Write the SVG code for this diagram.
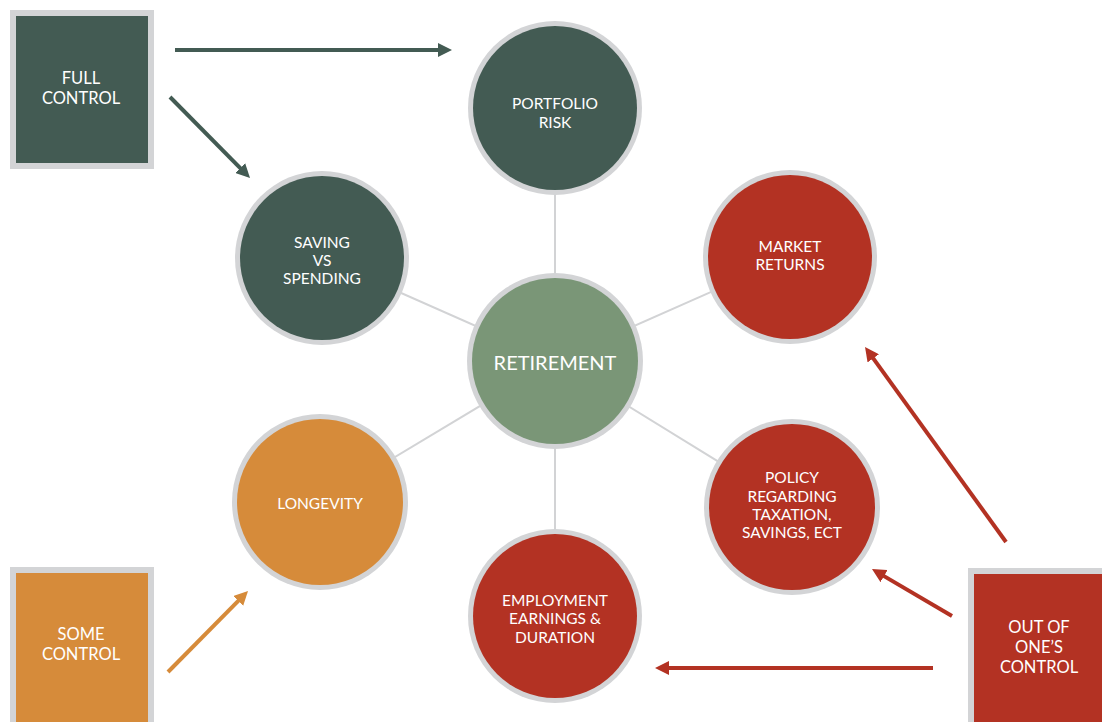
<svg xmlns="http://www.w3.org/2000/svg" width="1102" height="722" viewBox="0 0 1102 722">
<defs>
<style>
.bg{fill:#ffffff}
.ring{fill:#D3D4D6}
.dk{fill:#435B53}
.rd{fill:#B33223}
.or{fill:#D68B3A}
.gr{fill:#7A9677}
.spoke{stroke:#D2D3D5;stroke-width:2;fill:none}
.t{font-family:Lato,"Open Sans","Liberation Sans",sans-serif;fill:#ffffff;text-anchor:middle;dominant-baseline:central;font-size:15.5px}
.tb{font-size:16.5px}
.tc{font-size:20px}
.a{fill:none;stroke-width:4}
.adk{stroke:#435B53}
.ard{stroke:#B33223}
.aor{stroke:#D68B3A}
</style>
<marker id="mdk" markerUnits="userSpaceOnUse" markerWidth="14" markerHeight="14" viewBox="0 0 14 14" refX="4" refY="7" orient="auto"><path d="M0,0 L14,7 L0,14 z" fill="#435B53"/></marker>
<marker id="mrd" markerUnits="userSpaceOnUse" markerWidth="14" markerHeight="14" viewBox="0 0 14 14" refX="4" refY="7" orient="auto"><path d="M0,0 L14,7 L0,14 z" fill="#B33223"/></marker>
<marker id="mor" markerUnits="userSpaceOnUse" markerWidth="14" markerHeight="14" viewBox="0 0 14 14" refX="4" refY="7" orient="auto"><path d="M0,0 L14,7 L0,14 z" fill="#D68B3A"/></marker>
</defs>
<rect class="bg" x="0" y="0" width="1102" height="722"/>
<g id="spokes">
<line class="spoke" x1="555" y1="361" x2="555" y2="108"/>
<line class="spoke" x1="555" y1="361" x2="322" y2="258"/>
<line class="spoke" x1="555" y1="361" x2="790" y2="257"/>
<line class="spoke" x1="555" y1="361" x2="320" y2="502"/>
<line class="spoke" x1="555" y1="361" x2="792" y2="507"/>
<line class="spoke" x1="555" y1="361" x2="555" y2="616"/>
</g>
<g id="connectors">
<line class="a adk" x1="175" y1="50" x2="442" y2="50" marker-end="url(#mdk)"/>
<line class="a adk" x1="170" y1="97" x2="243" y2="170.9" marker-end="url(#mdk)"/>
<line class="a aor" x1="168" y1="672" x2="241" y2="598.1" marker-end="url(#mor)"/>
<line class="a ard" x1="1006" y1="542" x2="870.9" y2="355.1" marker-end="url(#mrd)"/>
<line class="a ard" x1="952" y1="616" x2="880.6" y2="574.1" marker-end="url(#mrd)"/>
<line class="a ard" x1="933" y1="668" x2="665" y2="668" marker-end="url(#mrd)"/>
</g>
<g id="full-control">
<rect class="ring" x="10" y="10" width="144" height="159"/>
<rect class="dk" x="16" y="16" width="132" height="147"/>
<text class="t tb" x="81" y="78">FULL</text>
<text class="t tb" x="81" y="98">CONTROL</text>
</g>
<g id="some-control">
<rect class="ring" x="10" y="567" width="144" height="160"/>
<rect class="or" x="16" y="573" width="132" height="155"/>
<text class="t tb" x="81" y="634">SOME</text>
<text class="t tb" x="81" y="654">CONTROL</text>
</g>
<g id="out-of-control">
<rect class="ring" x="968" y="568" width="144" height="160"/>
<rect class="rd" x="974" y="574" width="132" height="155"/>
<text class="t tb" x="1039" y="627">OUT OF</text>
<text class="t tb" x="1039" y="647">ONE’S</text>
<text class="t tb" x="1039" y="667">CONTROL</text>
</g>
<g id="portfolio-risk">
<circle class="ring" cx="555" cy="108" r="87"/>
<circle class="dk" cx="555" cy="108" r="82"/>
<text class="t" x="555" y="103">PORTFOLIO</text>
<text class="t" x="555" y="122">RISK</text>
</g>
<g id="saving-vs-spending">
<circle class="ring" cx="322" cy="258" r="87"/>
<circle class="dk" cx="322" cy="258" r="82"/>
<text class="t" x="322" y="242">SAVING</text>
<text class="t" x="322" y="260">VS</text>
<text class="t" x="322" y="278">SPENDING</text>
</g>
<g id="market-returns">
<circle class="ring" cx="790" cy="257" r="87"/>
<circle class="rd" cx="790" cy="257" r="82"/>
<text class="t" x="790" y="246">MARKET</text>
<text class="t" x="790" y="264">RETURNS</text>
</g>
<g id="retirement">
<circle class="ring" cx="555" cy="361" r="88"/>
<circle class="gr" cx="555" cy="361" r="83"/>
<text class="t tc" x="555" y="362">RETIREMENT</text>
</g>
<g id="longevity">
<circle class="ring" cx="320" cy="502" r="88"/>
<circle class="or" cx="320" cy="502" r="83"/>
<text class="t" x="320" y="503">LONGEVITY</text>
</g>
<g id="policy">
<circle class="ring" cx="792" cy="507" r="88"/>
<circle class="rd" cx="792" cy="507" r="83"/>
<text class="t" x="792" y="477">POLICY</text>
<text class="t" x="792" y="496">REGARDING</text>
<text class="t" x="792" y="514">TAXATION,</text>
<text class="t" x="792" y="532">SAVINGS, ECT</text>
</g>
<g id="employment">
<circle class="ring" cx="555" cy="616" r="87"/>
<circle class="rd" cx="555" cy="616" r="82"/>
<text class="t" x="555" y="600">EMPLOYMENT</text>
<text class="t" x="555" y="618">EARNINGS &amp;</text>
<text class="t" x="555" y="637">DURATION</text>
</g>
</svg>
